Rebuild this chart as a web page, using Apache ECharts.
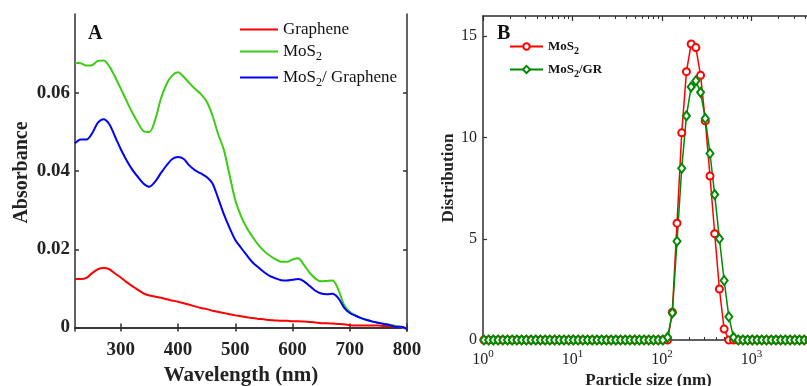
<!DOCTYPE html>
<html>
<head>
<meta charset="utf-8">
<script src="https://cdn.jsdelivr.net/npm/echarts@6/dist/echarts.min.js"></script>
<style>
  html, body { margin: 0; padding: 0; background: #fff; }
  #chart { width: 807px; height: 386px; }
</style>
</head>
<body>
<div id="chart"></div>
<script>
// panel A: UV-vis absorbance
const wavelength = [220, 230, 240, 250, 260, 270, 280, 290, 300, 310, 320, 330, 340, 350, 360, 370, 380, 390, 400, 410,
  420, 430, 440, 450, 460, 470, 480, 490, 500, 510, 520, 530, 540, 550, 560, 570, 580, 590, 600, 610,
  620, 630, 640, 650, 660, 670, 680, 690, 700, 710, 720, 730, 740, 750, 760, 770, 780, 790, 800]
const graphene = [0.0124, 0.0124, 0.0127, 0.0139, 0.0149, 0.0152, 0.0149, 0.0138, 0.0128, 0.0116, 0.0106, 0.0096, 0.0087, 0.0082, 0.0079, 0.0076, 0.0072, 0.0069, 0.0066, 0.0062,
  0.0058, 0.0054, 0.0050, 0.0047, 0.0043, 0.0040, 0.0037, 0.0034, 0.0031, 0.0029, 0.0026, 0.0024, 0.0022, 0.0021, 0.0019, 0.0018, 0.0017, 0.0017, 0.0016, 0.0016,
  0.0015, 0.0014, 0.0013, 0.0011, 0.0011, 0.0010, 0.0009, 0.0008, 0.0006, 0.0005, 0.0005, 0.0005, 0.0005, 0.0005, 0.0004, 0.0004, 0.0002, 0.0000, -0.0002]
const mos2 = [0.0677, 0.0676, 0.0670, 0.0671, 0.0682, 0.0683, 0.0668, 0.0641, 0.0611, 0.0580, 0.0550, 0.0524, 0.0502, 0.0500, 0.0531, 0.0585, 0.0623, 0.0645, 0.0653, 0.0641,
  0.0625, 0.0610, 0.0597, 0.0578, 0.0543, 0.0495, 0.0455, 0.0390, 0.0326, 0.0285, 0.0255, 0.0232, 0.0212, 0.0196, 0.0184, 0.0175, 0.0168, 0.0168, 0.0174, 0.0177,
  0.0160, 0.0140, 0.0125, 0.0118, 0.0119, 0.0120, 0.0097, 0.0058, 0.0040, 0.0031, 0.0024, 0.0019, 0.0015, 0.0012, 0.0009, 0.0007, 0.0004, 0.0001, -0.0004]
const mos2Gr = [0.0471, 0.0481, 0.0481, 0.0497, 0.0524, 0.0533, 0.0520, 0.0488, 0.0456, 0.0428, 0.0404, 0.0385, 0.0368, 0.0360, 0.0373, 0.0395, 0.0415, 0.0431, 0.0436, 0.0431,
  0.0414, 0.0402, 0.0394, 0.0385, 0.0369, 0.0331, 0.0290, 0.0255, 0.0224, 0.0204, 0.0185, 0.0167, 0.0154, 0.0142, 0.0132, 0.0126, 0.0121, 0.0120, 0.0122, 0.0124,
  0.0118, 0.0106, 0.0094, 0.0087, 0.0085, 0.0086, 0.0075, 0.0051, 0.0037, 0.0030, 0.0024, 0.0019, 0.0015, 0.0012, 0.0009, 0.0006, 0.0002, 0.0002, -0.0004]
const absTicks = [0, 0.02, 0.04, 0.06]
const wlTicks = [300, 400, 500, 600, 700, 800]

// panel B: particle size distribution
const sizeNm = [1.024, 1.156, 1.305, 1.473, 1.663, 1.877, 2.119, 2.392, 2.700, 3.048, 3.441, 3.884, 4.385, 4.950, 5.587, 6.307, 7.120, 8.037, 9.073,
  10.24, 11.56, 13.05, 14.73, 16.63, 18.77, 21.19, 23.92, 27.00, 30.48, 34.41, 38.84, 43.85, 49.50, 55.87, 63.07, 71.20, 80.37, 90.73,
  102.4, 115.6, 130.5, 147.3, 166.3, 187.7, 211.9, 239.2, 270.0, 304.8, 344.1, 388.4, 438.5, 495.0, 558.7, 630.7, 712.0, 803.7, 907.3,
  1024, 1156, 1305, 1473, 1663, 1877, 2119, 2392, 2700, 3048, 3441, 3884, 4385]
const distMoS2 = [0, 0, 0, 0, 0, 0, 0, 0, 0, 0, 0, 0, 0, 0, 0, 0, 0, 0, 0,
  0, 0, 0, 0, 0, 0, 0, 0, 0, 0, 0, 0, 0, 0, 0, 0, 0, 0, 0,
  0, 0, 1.37, 5.77, 10.23, 13.25, 14.62, 14.44, 13.07, 10.82, 8.10, 5.25, 2.52, 0.54, 0, 0, 0, 0, 0,
  0, 0, 0, 0, 0, 0, 0, 0, 0, 0, 0, 0, 0]
const distMoS2GR = [0, 0, 0, 0, 0, 0, 0, 0, 0, 0, 0, 0, 0, 0, 0, 0, 0, 0, 0,
  0, 0, 0, 0, 0, 0, 0, 0, 0, 0, 0, 0, 0, 0, 0, 0, 0, 0, 0,
  0, 0.13, 1.34, 4.88, 8.48, 11.07, 12.5, 12.8, 12.23, 10.94, 9.21, 7.18, 5.0, 2.94, 1.15, 0.13, 0, 0, 0,
  0, 0, 0, 0, 0, 0, 0, 0, 0, 0, 0, 0, 0]
const distTicks = [0, 5, 10, 15]
const sizeMinorTicks = [2, 3, 4, 5, 6, 7, 8, 9, 20, 30, 40, 50, 60, 70, 80, 90,
  200, 300, 400, 500, 600, 700, 800, 900, 2000, 3000, 4000, 5000]

const serif = 'Liberation Serif'
const axisColor = '#2e2e2e'
const pair = (xs, ys) => xs.map((x, i) => [x, ys[i]])

const chart = echarts.init(document.getElementById('chart'))

const lineAxis = {
  axisLine: { show: true, lineStyle: { color: axisColor, width: 1.5 } },
  splitLine: { show: false }
}

const subRich = {
  n: { fontFamily: serif, fontSize: 17, color: '#111' },
  sub: { fontFamily: serif, fontSize: 12, color: '#111', padding: [11, 0, 0, 0] }
}
const subRichB = {
  n: { fontFamily: serif, fontSize: 13, fontWeight: 'bold', color: '#111' },
  sub: { fontFamily: serif, fontSize: 10, fontWeight: 'bold', color: '#111', padding: [9, 0, 0, 0] }
}

chart.setOption({
  animation: false,
  grid: [
    { left: 75, top: 14, width: 332, height: 317, outerBoundsMode: 'none', containLabel: false },
    { left: 483, top: 16, width: 331, height: 324, outerBoundsMode: 'none', containLabel: false }
  ],
  legend: [
    { data: ['Graphene'], left: 240, top: 21, icon: 'rect', itemWidth: 38, itemHeight: 2, padding: 0,
      textStyle: { fontFamily: serif, fontSize: 17, color: '#111' } },
    { data: ['MoS2'], left: 240, top: 43, icon: 'rect', itemWidth: 38, itemHeight: 2, padding: 0,
      formatter: () => '{n|MoS}{sub|2}', textStyle: { rich: subRich } },
    { data: ['MoS2/ Graphene'], left: 240, top: 69, icon: 'rect', itemWidth: 38, itemHeight: 2, padding: 0,
      formatter: () => '{n|MoS}{sub|2}{n|/ Graphene}', textStyle: { rich: subRich } },
    { data: ['MoS2 '], left: 509, top: 40, itemWidth: 33, itemHeight: 8, padding: 0,
      formatter: () => '{n|MoS}{sub|2}', textStyle: { rich: subRichB } },
    { data: ['MoS2/GR'], left: 509, top: 63, itemWidth: 33, itemHeight: 9, padding: 0,
      formatter: () => '{n|MoS}{sub|2}{n|/GR}', textStyle: { rich: subRichB } }
  ],
  xAxis: [
    Object.assign({}, lineAxis, {
      type: 'value', gridIndex: 0, min: 220, max: 800,
      name: 'Wavelength (nm)', nameLocation: 'middle', nameGap: 31,
      nameTextStyle: { fontFamily: serif, fontSize: 21, fontWeight: 'bold', color: '#222' },
      axisTick: { inside: true, length: 4, customValues: wlTicks, lineStyle: { color: axisColor, width: 1.5 } },
      axisLabel: { customValues: wlTicks, margin: 10, fontFamily: serif, fontSize: 19, fontWeight: 'bold', color: '#222' }
    }),
    Object.assign({}, lineAxis, {
      type: 'value', gridIndex: 0, min: 220, max: 800, position: 'top',
      axisTick: { inside: true, length: 4, customValues: wlTicks, lineStyle: { color: axisColor, width: 1.5 } },
      axisLabel: { show: false }
    }),
    Object.assign({}, lineAxis, {
      type: 'log', logBase: 10, gridIndex: 1, min: 1, max: 5000,
      name: 'Particle size (nm)', nameLocation: 'middle', nameGap: 30,
      nameTextStyle: { fontFamily: serif, fontSize: 17, fontWeight: 'bold', color: '#222' },
      axisTick: { inside: true, length: 5, customValues: [1, 10, 100, 1000], lineStyle: { color: axisColor, width: 1.2 } },
      axisLabel: {
        customValues: [1, 10, 100, 1000], margin: 9,
        formatter: v => '{b|10}{s|' + Math.round(Math.log10(v)) + '}',
        rich: {
          b: { fontFamily: serif, fontSize: 16, color: '#222' },
          s: { fontFamily: serif, fontSize: 11, color: '#222', padding: [0, 0, 10, 0] }
        }
      }
    }),
    Object.assign({}, lineAxis, {
      type: 'log', logBase: 10, gridIndex: 1, min: 1, max: 5000, position: 'top',
      axisTick: { inside: true, length: 5, customValues: [1, 10, 100, 1000], lineStyle: { color: axisColor, width: 1.2 } },
      axisLabel: { show: false }
    }),
    {
      type: 'log', logBase: 10, gridIndex: 1, min: 1, max: 5000, position: 'bottom',
      axisLine: { show: false }, splitLine: { show: false }, axisLabel: { show: false },
      axisTick: { inside: true, length: 3, customValues: sizeMinorTicks, lineStyle: { color: axisColor, width: 1 } }
    },
    {
      type: 'log', logBase: 10, gridIndex: 1, min: 1, max: 5000, position: 'top',
      axisLine: { show: false }, splitLine: { show: false }, axisLabel: { show: false },
      axisTick: { inside: true, length: 3, customValues: sizeMinorTicks, lineStyle: { color: axisColor, width: 1 } }
    }
  ],
  yAxis: [
    Object.assign({}, lineAxis, {
      type: 'value', gridIndex: 0, min: -0.0009, max: 0.0802,
      name: 'Absorbance', nameLocation: 'middle', nameGap: 43, nameRotate: 90,
      nameTextStyle: { fontFamily: serif, fontSize: 20, fontWeight: 'bold', color: '#222' },
      axisTick: { inside: true, length: 4, customValues: absTicks, lineStyle: { color: axisColor, width: 1.5 } },
      axisLabel: {
        customValues: absTicks, margin: 5,
        formatter: v => (v === 0 ? '0' : v.toFixed(2)),
        fontFamily: serif, fontSize: 19, fontWeight: 'bold', color: '#222'
      }
    }),
    Object.assign({}, lineAxis, {
      type: 'value', gridIndex: 0, min: -0.0009, max: 0.0802, position: 'right',
      axisTick: { inside: true, length: 4, customValues: absTicks, lineStyle: { color: axisColor, width: 1.5 } },
      axisLabel: { show: false }
    }),
    Object.assign({}, lineAxis, {
      type: 'value', gridIndex: 1, min: 0, max: 16,
      name: 'Distribution', nameLocation: 'middle', nameGap: 21, nameRotate: 90,
      nameTextStyle: { fontFamily: serif, fontSize: 17, fontWeight: 'bold', color: '#222' },
      axisTick: { inside: true, length: 4, customValues: distTicks, lineStyle: { color: axisColor, width: 1.2 } },
      axisLabel: { customValues: distTicks, margin: 6, fontFamily: serif, fontSize: 16, color: '#222' }
    })
  ],
  graphic: [
    { type: 'text', left: 88, top: 24, style: { text: 'A', fontFamily: serif, fontSize: 20, fontWeight: 'bold', fill: '#111' } },
    { type: 'text', left: 497, top: 24, style: { text: 'B', fontFamily: serif, fontSize: 20, fontWeight: 'bold', fill: '#111' } }
  ],
  series: [
    { name: 'Graphene', type: 'line', xAxisIndex: 0, yAxisIndex: 0, data: pair(wavelength, graphene),
      smooth: 0.3, symbol: 'none', lineStyle: { color: '#ff0000', width: 2 }, itemStyle: { color: '#ff0000' } },
    { name: 'MoS2', type: 'line', xAxisIndex: 0, yAxisIndex: 0, data: pair(wavelength, mos2),
      smooth: 0.3, symbol: 'none', lineStyle: { color: '#3ccc14', width: 2 }, itemStyle: { color: '#3ccc14' } },
    { name: 'MoS2/ Graphene', type: 'line', xAxisIndex: 0, yAxisIndex: 0, data: pair(wavelength, mos2Gr),
      smooth: 0.3, symbol: 'none', lineStyle: { color: '#0000ff', width: 2 }, itemStyle: { color: '#0000ff' } },
    { name: 'MoS2 ', type: 'line', xAxisIndex: 2, yAxisIndex: 2, data: pair(sizeNm, distMoS2),
      symbol: 'emptyCircle', symbolSize: 7, lineStyle: { color: '#ff0000', width: 1.5 },
      itemStyle: { color: '#ff0000', borderWidth: 1.5 } },
    { name: 'MoS2/GR', type: 'line', xAxisIndex: 2, yAxisIndex: 2, data: pair(sizeNm, distMoS2GR),
      symbol: 'emptyDiamond', symbolSize: [7, 9], lineStyle: { color: '#008a00', width: 1.5 },
      itemStyle: { color: '#008a00', borderWidth: 1.5 } }
  ]
})
</script>
</body>
</html>
